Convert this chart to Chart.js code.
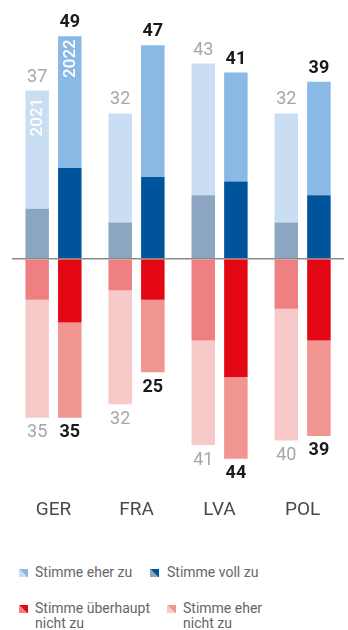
<!DOCTYPE html>
<html>
<head>
<meta charset="utf-8">
<script src="https://cdn.jsdelivr.net/npm/chart.js@4"></script>
<style>
    body { margin: 0; width: 348px; height: 630px; overflow: hidden; background: #fff; font-family: Roboto, sans-serif; position: relative; }
    .chart-wrap { position: absolute; left: 0; top: 0; width: 356px; height: 561px; }
    .legend-item { position: absolute; font-size: 14px; color: #666; line-height: 15px; }
    .legend-icon { position: absolute; width: 9px; height: 8px; }
</style>
</head>
<body>
<div class="chart-wrap"><canvas id="survey-chart"></canvas></div>

<div class="legend-icon" style="left:19px;top:569px;background:linear-gradient(to top right,#c9ddf3 50%,#8ab9e5 50%)"></div>
<div class="legend-item" style="left:35px;top:565px">Stimme eher zu</div>
<div class="legend-icon" style="left:150px;top:569px;background:linear-gradient(to top right,#8ca6c2 50%,#00549c 50%)"></div>
<div class="legend-item" style="left:167px;top:565px">Stimme voll zu</div>
<div class="legend-icon" style="left:19px;top:605px;background:linear-gradient(to top right,#ef8082 50%,#e30613 50%)"></div>
<div class="legend-item" style="left:35px;top:601px">Stimme überhaupt<br>nicht zu</div>
<div class="legend-icon" style="left:167px;top:605px;background:linear-gradient(to top right,#f8c9c9 50%,#f0958f 50%)"></div>
<div class="legend-item" style="left:183px;top:601px">Stimme eher<br>nicht zu</div>

<script>
const countries = ["GER", "FRA", "LVA", "POL"];
const years = ["2021", "2022"];

// agree (positive side)
const voll2021 = [11, 8, 14, 8];
const eher2021 = [26, 24, 29, 24];
const voll2022 = [20, 18, 17, 14];
const eher2022 = [29, 29, 24, 25];

// disagree (drawn below zero)
const ueberhaupt2021 = [9, 7, 18, 11];
const eherNicht2021 = [26, 25, 23, 29];
const ueberhaupt2022 = [14, 9, 26, 18];
const eherNicht2022 = [21, 16, 18, 21];

const yTicks = { min: -45, max: 55 };

const neg = (arr) => arr.map((v) => -v);
const sum = (a, b) => a.map((v, i) => v + b[i]);

const bar = (label, stack, data, color) => ({
    label, stack, data,
    backgroundColor: color,
    borderWidth: 0,
    categoryPercentage: 0.786,
    barPercentage: 0.72,
});

const datasets = [
    bar("Stimme voll zu", "2021", voll2021, "#8ca6c2"),
    bar("Stimme eher zu", "2021", eher2021, "#c9ddf3"),
    bar("Stimme voll zu", "2022", voll2022, "#00549c"),
    bar("Stimme eher zu", "2022", eher2022, "#8ab9e5"),
    bar("Stimme überhaupt nicht zu", "2021", neg(ueberhaupt2021), "#ef8082"),
    bar("Stimme eher nicht zu", "2021", neg(eherNicht2021), "#f8c9c9"),
    bar("Stimme überhaupt nicht zu", "2022", neg(ueberhaupt2022), "#e30613"),
    bar("Stimme eher nicht zu", "2022", neg(eherNicht2022), "#f0958f"),
];

const totals = {
    top: [sum(voll2021, eher2021), sum(voll2022, eher2022)],
    bottom: [sum(ueberhaupt2021, eherNicht2021), sum(ueberhaupt2022, eherNicht2022)],
};

// outermost dataset of each stack, per year
const topIndex = [1, 3];
const bottomIndex = [5, 7];
const yearTextOffset = [7, 3];

const totalsPlugin = {
    id: "totals",
    afterDatasetsDraw(chart) {
        const ctx = chart.ctx;
        ctx.save();
        ctx.textAlign = "center";
        ctx.textBaseline = "middle";
        years.forEach((year, y) => {
            ctx.font = y === 0 ? "400 18px Roboto" : "700 18px Roboto";
            ctx.fillStyle = y === 0 ? "#a6a6a6" : "#1a1a1a";
            const topBars = chart.getDatasetMeta(topIndex[y]).data;
            const bottomBars = chart.getDatasetMeta(bottomIndex[y]).data;
            countries.forEach((c, i) => {
                ctx.fillText(totals.top[y][i], topBars[i].x, topBars[i].y - 13.5);
                ctx.fillText(totals.bottom[y][i], bottomBars[i].x, bottomBars[i].y + 15);
            });

            // year name written up the first country's bars
            const first = topBars[0];
            ctx.save();
            ctx.translate(first.x, first.y + yearTextOffset[y]);
            ctx.rotate(-Math.PI / 2);
            ctx.textAlign = "right";
            ctx.font = "500 17px Roboto";
            ctx.fillStyle = "#ffffff";
            ctx.fillText(year, 0, 1);
            ctx.restore();
        });
        ctx.restore();
    },
};

new Chart(document.querySelector("#survey-chart"), {
    type: "bar",
    data: { labels: countries, datasets },
    options: {
        responsive: true,
        maintainAspectRatio: false,
        animation: false,
        layout: { padding: { top: 9, left: 9, right: 1, bottom: 3 } },
        plugins: { legend: { display: false }, tooltip: { enabled: false } },
        scales: {
            x: {
                stacked: true,
                grid: { display: false, drawTicks: false },
                border: { display: false },
                ticks: { color: "#4a4a4a", font: { family: "Roboto", size: 19 }, padding: 36 },
            },
            y: {
                stacked: true,
                min: yTicks.min,
                max: yTicks.max,
                border: { display: false },
                grid: {
                    drawTicks: false,
                    lineWidth: 1.5,
                    color: (c) => (c.tick && c.tick.value === 0 ? "#8a8a8a" : "transparent"),
                },
                ticks: { display: false, stepSize: 5 },
            },
        },
    },
    plugins: [totalsPlugin],
});
</script>
</body>
</html>
